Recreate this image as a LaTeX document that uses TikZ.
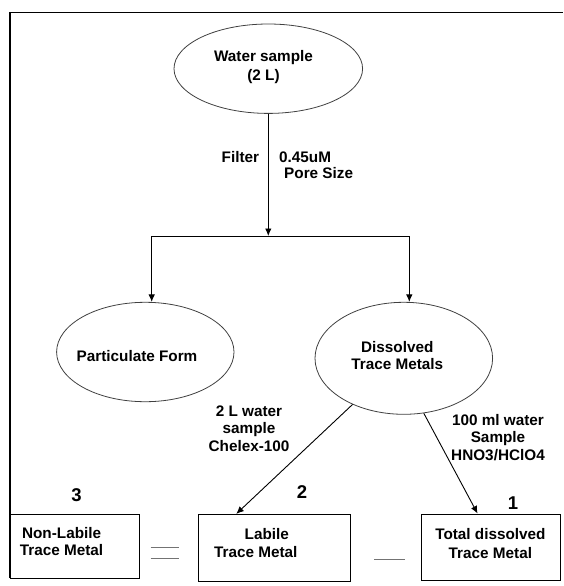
\documentclass[tikz,border=0pt]{standalone}
\usepackage{fontspec}
\setmainfont{Liberation Sans}
\usetikzlibrary{shapes.geometric,arrows.meta}
\begin{document}
\begin{tikzpicture}[x=1pt,y=-1pt,
  ell/.style={ellipse, draw=black!75, line width=0.8pt, inner sep=0pt},
  boxn/.style={rectangle, draw=black, line width=0.9pt, inner sep=0pt},
  txt/.style={font=\fontsize{15.3}{17.5}\selectfont\bfseries, inner sep=0pt, align=center},
  num/.style={font=\fontsize{18.5}{20}\selectfont\bfseries, inner sep=0pt},
  arr/.style={draw=black, line width=0.9pt, -{Latex[length=7.5pt,width=6.5pt]}},
  ln/.style={draw=black, line width=0.9pt},
  op/.style={draw=black!55, line width=0.9pt}]
\useasboundingbox (0,0) rectangle (563,586);
% frame
\coordinate (ftl) at (10,12.8);
\coordinate (fbl) at (10,578);
\coordinate (ftr) at (563,12.8);
\draw[line width=1.4pt] (fbl) -- (ftl) -- (ftr);

% ellipses
\node[ell, minimum width=188.6pt, minimum height=89.4pt] (ws) at (268.3,68.7) {};
\node[txt, font=\fontsize{15.3}{19}\selectfont\bfseries] (wst) at (263.5,67.5) {Water sample\\(2 L)};

\node[ell, minimum width=177.4pt, minimum height=99.4pt] (pf) at (145.3,352) {};
\node[txt] (pft) at (137,356) {Particulate Form};

\node[ell, minimum width=177.6pt, minimum height=112pt] (dtm) at (403.8,358.3) {};
\node[txt, font=\fontsize{15.3}{16.6}\selectfont\bfseries] (dtmt) at (397.3,355.5) {Dissolved\\Trace Metals};

% filter labels
\node[txt, anchor=east] (filt) at (259.3,156.7) {Filter};
\node[txt, anchor=north west, align=left, font=\fontsize{15.3}{16.6}\selectfont\bfseries] (pore) at (279,151.2) {0.45uM\\\hspace*{5pt}Pore Size};

% branch connectors
\coordinate (br) at (268.3,236);
\coordinate (bl) at (151.7,236);
\coordinate (brr) at (409.3,236);
\draw[arr] (ws.south) -- (br);
\draw[ln] (bl) -- (brr);
\draw[arr] (bl) -- (bl |- pf.north);
\draw[arr] (brr) -- (brr |- dtm.north);

% boxes
\node[boxn, minimum width=129.3pt, minimum height=64pt] (nl) at (74.65,546) {};
\node[txt, font=\fontsize{15.3}{17.7}\selectfont\bfseries] (nlt) at (61.6,541.5) {Non-Labile\\Trace Metal};
\node[boxn, minimum width=152.4pt, minimum height=66.7pt] (lb) at (274.5,547.7) {};
\node[txt, font=\fontsize{15.3}{17.7}\selectfont\bfseries] (lbt) at (255.8,543.2) {\hspace*{22pt}Labile\\Trace Metal};
\node[boxn, minimum width=138.3pt, minimum height=66pt] (td) at (490.85,547) {};
\node[txt, font=\fontsize{15.3}{19}\selectfont\bfseries] (tdt) at (490.4,543.5) {Total dissolved\\Trace Metal};

% numbers
\node[num] (n3) at (76.5,495) {3};
\node[num] (n2) at (302,491.7) {2};
\node[num] (n1) at (513,503) {1};

% labels of diagonal arrows
\node[txt] (chel) at (249,428.3) {2 L water\\sample\\Chelex-100};
\node[txt] (hno) at (498,437.5) {100 ml water\\Sample\\HNO3/HClO4};

% diagonal arrows
\draw[arr] (dtm.-138.7) -- ([xshift=38.4pt]lb.north west);
\draw[arr] (dtm.-70.5) -- ([xshift=56.3pt]td.north west);

% operators
\coordinate (e1a) at (150.7,547.7);
\coordinate (e1b) at (179,547.7);
\coordinate (e2a) at (150.7,558.3);
\coordinate (e2b) at (179,558.3);
\coordinate (m1a) at (374,559.3);
\coordinate (m1b) at (405,559.3);
\draw[op] (e1a) -- (e1b);
\draw[op] (e2a) -- (e2b);
\draw[op] (m1a) -- (m1b);
\end{tikzpicture}
\end{document}
